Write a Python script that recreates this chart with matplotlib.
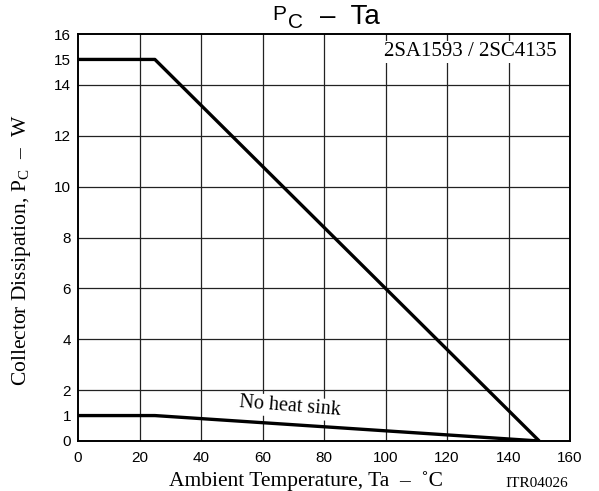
import matplotlib
matplotlib.use("Agg")
import matplotlib.pyplot as plt

# Data
temp_heatsink = [0, 25, 150]
pc_heatsink = [15, 15, 0]
temp_noheatsink = [0, 25, 150]
pc_noheatsink = [1, 1, 0]

xticks = [0, 20, 40, 60, 80, 100, 120, 140, 160]
yticks = [0, 1, 2, 4, 6, 8, 10, 12, 14, 15, 16]
ygrid = [2, 4, 6, 8, 10, 12, 14]
xgrid = [20, 40, 60, 80, 100, 120, 140]

serif = "Liberation Serif"
sans = "Liberation Sans"
plt.rcParams["mathtext.fontset"] = "custom"
plt.rcParams["mathtext.rm"] = serif

W, H = 599, 491
fig = plt.figure(figsize=(W / 100, H / 100), dpi=100)
ax = fig.add_axes([78 / W, 1 - 441 / H, 492 / W, 407 / H])

ax.set_xlim(0, 160)
ax.set_ylim(0, 16)

for g in xgrid:
    ax.axvline(g, color="#222222", lw=0.9, zorder=1)
for g in ygrid:
    ax.axhline(g, color="#222222", lw=0.9, zorder=1)

ax.plot(temp_heatsink, pc_heatsink, color="black", lw=2.4, zorder=3,
        solid_capstyle="butt")
ax.plot(temp_noheatsink, pc_noheatsink, color="black", lw=2.4, zorder=3,
        solid_capstyle="butt")

for s in ax.spines.values():
    s.set_linewidth(1.4)
    s.set_color("black")

ax.set_xticks(xticks)
ax.set_yticks(yticks)
ax.tick_params(length=0, labelsize=11)
ax.tick_params(axis="x", pad=7)
ax.tick_params(axis="y", pad=5)
for lab in ax.get_xticklabels() + ax.get_yticklabels():
    lab.set_family(sans)

ax.set_xlabel("Ambient Temperature, Ta  \u2013  \u02daC", family=serif,
              fontsize=15.5)
ax.xaxis.set_label_coords(0.4634, -0.075)
ax.set_ylabel("Collector Dissipation, P$_{\\mathregular{C}}$  \u2013  W",
              family=serif, fontsize=15.5)
ax.yaxis.set_label_coords(-0.091, 0.469)

ax.text(127.5, 15.3, "2SA1593 / 2SC4135", family=serif, fontsize=15,
        ha="center", va="center", zorder=4,
        bbox=dict(facecolor="white", edgecolor="none", pad=1))
ax.text(69, 1.34, "No heat sink", family=serif, fontsize=14.5,
        ha="center", va="center", rotation=-4.5, zorder=4,
        rotation_mode="anchor",
        bbox=dict(facecolor="white", edgecolor="none", pad=1))

fig.text(568 / W, 1 - 487 / H, "ITR04026", family=serif, fontsize=11,
         ha="right", va="baseline")

# Title "P_C - Ta"
fig.text(272 / W, 1 - 20 / H, "P", family=sans, fontsize=15, ha="left",
         va="baseline")
fig.text(288 / W, 1 - 28 / H, "C", family=sans, fontsize=15, ha="left",
         va="baseline")
fig.text(320 / W, 1 - 24 / H, "\u2013  Ta", family=sans, fontsize=20,
         ha="left", va="baseline")

fig.savefig("out.png", dpi=100)
